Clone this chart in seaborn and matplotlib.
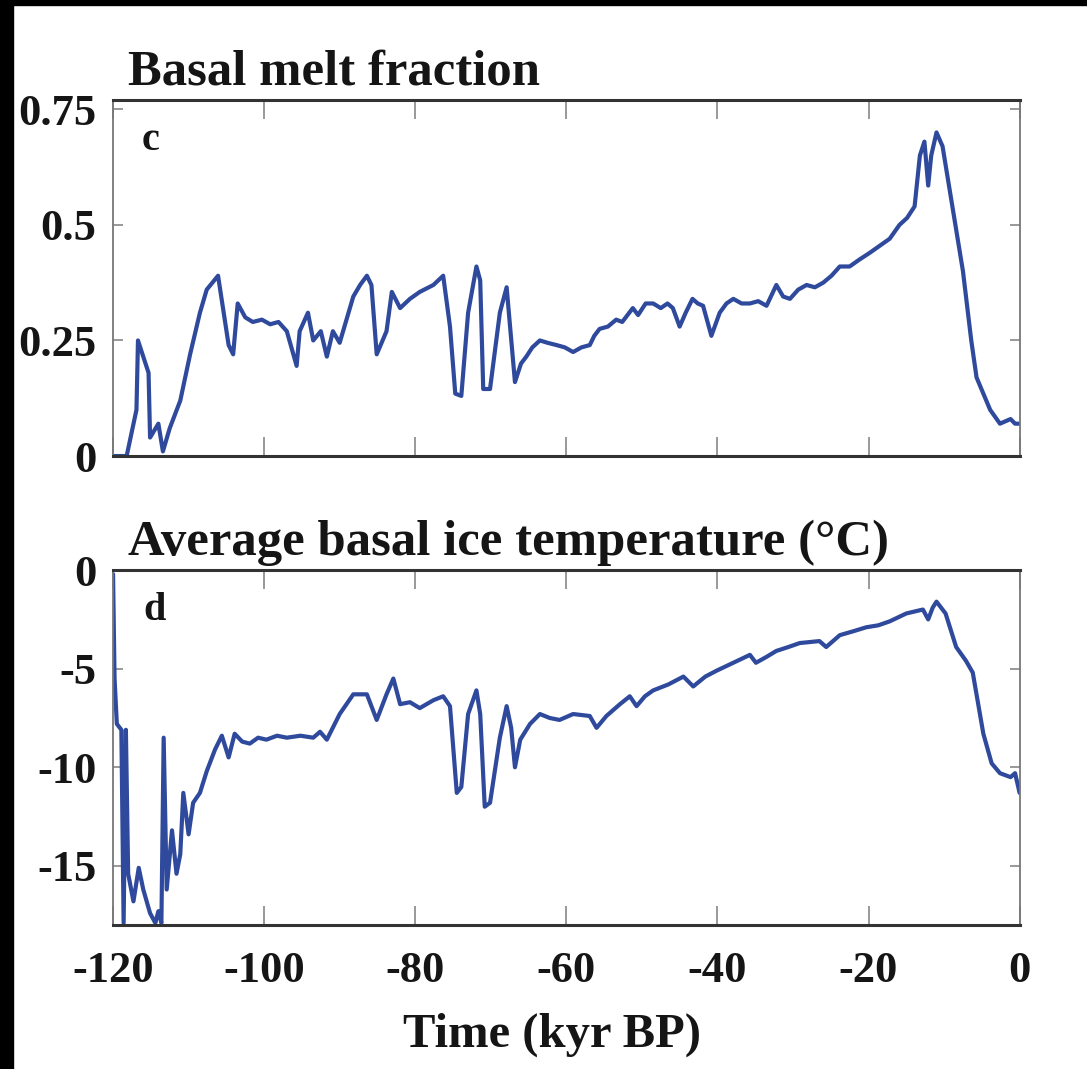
import pandas as pd
import seaborn as sns
import matplotlib.pyplot as plt
from matplotlib.patches import Rectangle

# Basal melt fraction (panel c)
melt_time = [-120.0, -119.5, -118.2, -116.9, -116.7, -115.3, -115.1, -114.0, -113.4,
             -112.5, -111.1, -109.8, -108.5, -107.6, -106.1, -104.7, -104.1, -103.5,
             -102.5, -101.5, -100.3, -99.2, -98.1, -97.0, -95.7, -95.3, -94.2, -93.5,
             -92.5, -91.7, -90.9, -90.0, -88.2, -87.3, -86.4, -85.8, -85.1, -83.8,
             -83.1, -82.0, -80.7, -79.4, -77.6, -76.3, -75.4, -74.7, -73.9, -73.0,
             -71.9, -71.4, -71.0, -70.1, -68.8, -67.9, -67.5, -66.8, -66.0, -65.3,
             -64.5, -63.5, -62.5, -61.3, -60.2, -59.1, -58.0, -56.9, -56.3, -55.6,
             -54.5, -53.4, -52.6, -51.2, -50.5, -49.5, -48.5, -47.5, -46.6, -45.9,
             -45.0, -44.2, -43.3, -42.6, -41.9, -40.8, -39.7, -38.8, -37.9, -36.8,
             -35.7, -34.6, -33.5, -32.2, -31.3, -30.4, -29.3, -28.2, -27.1, -26.0,
             -24.9, -23.8, -22.5, -21.2, -19.8, -18.5, -17.2, -15.9, -14.9, -13.9,
             -13.2, -12.6, -12.1, -11.7, -11.0, -10.2, -8.8, -7.5, -6.4, -5.7, -4.8,
             -3.9, -2.6, -1.9, -1.2, -0.6, 0.0]
melt_frac = [0.0, 0.0, 0.0, 0.10, 0.25, 0.18, 0.04, 0.07, 0.01,
             0.06, 0.12, 0.22, 0.31, 0.36, 0.39, 0.24, 0.22, 0.33,
             0.30, 0.29, 0.295, 0.285, 0.29, 0.27, 0.195, 0.27, 0.31, 0.25,
             0.27, 0.215, 0.27, 0.245, 0.345, 0.37, 0.39, 0.37, 0.22, 0.27,
             0.355, 0.32, 0.34, 0.355, 0.37, 0.39, 0.28, 0.135, 0.13, 0.31,
             0.41, 0.38, 0.145, 0.145, 0.31, 0.365, 0.29, 0.16, 0.20, 0.215,
             0.235, 0.25, 0.245, 0.24, 0.235, 0.225, 0.235, 0.24, 0.26, 0.275,
             0.28, 0.295, 0.29, 0.32, 0.305, 0.33, 0.33, 0.32, 0.33, 0.32,
             0.28, 0.31, 0.34, 0.33, 0.325, 0.26, 0.31, 0.33, 0.34, 0.33,
             0.33, 0.335, 0.325, 0.37, 0.345, 0.34, 0.36, 0.37, 0.365, 0.375,
             0.39, 0.41, 0.41, 0.425, 0.44, 0.455, 0.47, 0.50, 0.515, 0.54,
             0.65, 0.68, 0.585, 0.65, 0.70, 0.67, 0.53, 0.40, 0.25, 0.17, 0.135,
             0.10, 0.07, 0.075, 0.08, 0.07, 0.07]

# Average basal ice temperature (panel d)
temp_time = [-120.0, -119.8, -119.5, -118.9, -118.6, -118.3, -118.0, -117.3, -116.6,
             -116.0, -115.1, -114.4, -114.0, -113.6, -113.3, -112.9, -112.2, -111.6,
             -111.1, -110.7, -110.0, -109.4, -108.5, -107.6, -106.5, -105.6, -104.7,
             -103.9, -102.9, -101.9, -100.8, -99.7, -98.3, -97.0, -95.2, -93.5, -92.6,
             -91.7, -90.0, -88.2, -86.4, -85.1, -83.8, -82.9, -82.0, -80.7, -79.4,
             -77.6, -76.3, -75.4, -74.5, -73.9, -73.0, -71.9, -71.4, -70.8, -70.1,
             -68.8, -67.9, -67.3, -66.8, -66.1, -64.8, -63.5, -62.2, -60.9, -59.1,
             -56.9, -56.0, -54.7, -52.9, -51.6, -50.7, -49.6, -48.5, -46.5, -44.5,
             -43.2, -41.6, -40.1, -37.9, -35.7, -34.9, -33.5, -32.2, -30.6, -29.1,
             -26.5, -25.6, -23.8, -22.0, -20.3, -18.7, -17.2, -15.0, -12.8, -12.1,
             -11.5, -11.0, -9.8, -8.4, -7.1, -6.2, -4.8, -3.7, -2.6, -1.2, -0.6, 0.0]
temp_c = [-0.2, -5.5, -7.8, -8.1, -17.9, -8.1, -15.4, -16.8, -15.1,
          -16.2, -17.4, -17.9, -17.3, -17.9, -8.5, -16.2, -13.2, -15.4,
          -14.4, -11.3, -13.4, -11.8, -11.3, -10.2, -9.1, -8.4, -9.5,
          -8.3, -8.7, -8.8, -8.5, -8.6, -8.4, -8.5, -8.4, -8.5, -8.2,
          -8.6, -7.3, -6.3, -6.3, -7.6, -6.3, -5.5, -6.8, -6.7, -7.0,
          -6.6, -6.4, -6.9, -11.3, -11.0, -7.3, -6.1, -7.3, -12.0, -11.8,
          -8.5, -6.9, -8.0, -10.0, -8.6, -7.8, -7.3, -7.5, -7.6, -7.3,
          -7.4, -8.0, -7.4, -6.8, -6.4, -6.9, -6.4, -6.1, -5.8, -5.4,
          -5.9, -5.4, -5.1, -4.7, -4.3, -4.7, -4.4, -4.1, -3.9, -3.7,
          -3.6, -3.9, -3.3, -3.1, -2.9, -2.8, -2.6, -2.2, -2.0, -2.5,
          -1.9, -1.6, -2.2, -3.9, -4.6, -5.2, -8.3, -9.8, -10.3, -10.5, -10.3, -11.3]

x_ticks = [-120, -100, -80, -60, -40, -20, 0]
x_labels = ['-120', '-100', '-80', '-60', '-40', '-20', '0']
melt_ticks = [0, 0.25, 0.5, 0.75]
melt_labels = ['0', '0.25', '0.5', '0.75']
temp_ticks = [-15, -10, -5, 0]
temp_labels = ['-15', '-10', '-5', '0']

line_color = '#2f4a9c'

sns.set_style('white')
plt.rcParams['font.family'] = ['Liberation Serif', 'DejaVu Serif']
plt.rcParams['font.weight'] = 'bold'
plt.rcParams['text.color'] = '#151515'
plt.rcParams['xtick.labelcolor'] = '#151515'
plt.rcParams['ytick.labelcolor'] = '#151515'

fig = plt.figure(figsize=(10.87, 10.69), dpi=100)
ax1 = fig.add_axes([0.104, 0.5734, 0.834, 0.333])
ax2 = fig.add_axes([0.104, 0.1347, 0.834, 0.332])

melt = pd.DataFrame({'time': melt_time, 'value': melt_frac})
temp = pd.DataFrame({'time': temp_time, 'value': temp_c})
sns.lineplot(data=melt, x='time', y='value', ax=ax1, color=line_color,
             linewidth=3.0, estimator=None)
sns.lineplot(data=temp, x='time', y='value', ax=ax2, color=line_color,
             linewidth=3.0, estimator=None)

for ax in (ax1, ax2):
    ax.set_xlim(-120, 0)
    ax.set_xticks(x_ticks)
    ax.set_xticklabels(x_labels)
    ax.set_xlabel('')
    ax.set_ylabel('')
    ax.tick_params(axis='x', direction='in', length=14, width=1.2, color='#888888',
                   top=True, bottom=True, labelsize=32, pad=19)
    ax.tick_params(axis='y', direction='in', length=7, width=1.2, color='#888888',
                   left=True, right=True, labelsize=32, pad=12)
    for side, sp in ax.spines.items():
        sp.set_visible(True)
        sp.set_color('#333333' if side in ('top', 'bottom') else '#777777')
        sp.set_linewidth(2.2 if side in ('top', 'bottom') else 1.3)

ax1.set_ylim(0, 0.77)
ax1.set_yticks(melt_ticks)
ax1.set_yticklabels(melt_labels)
ax1.tick_params(axis='x', labelbottom=False)
ax2.set_ylim(-18, 0)
ax2.set_yticks(temp_ticks)
ax2.set_yticklabels(temp_labels)

for ax in (ax1, ax2):
    for lbl in ax.get_xticklabels() + ax.get_yticklabels():
        lbl.set_fontweight('bold')

ax1.text(0.041, 0.885, 'c', transform=ax1.transAxes, fontsize=29, fontweight='bold',
         ha='center', va='center')
ax2.text(0.046, 0.885, 'd', transform=ax2.transAxes, fontsize=29, fontweight='bold',
         ha='center', va='center')

fig.text(128 / 1087, 0.921, 'Basal melt fraction', fontsize=36.5, fontweight='bold',
         ha='left', va='baseline')
fig.text(128 / 1087, 0.481, 'Average basal ice temperature (°C)', fontsize=36.5,
         fontweight='bold', ha='left', va='baseline')
fig.text(0.508, 0.0206, 'Time (kyr BP)', fontsize=35, fontweight='bold',
         ha='center', va='baseline')

# black scan borders on the left and top
fig.patches.append(Rectangle((0, 0), 13 / 1087, 1, transform=fig.transFigure,
                             color='black', zorder=10))
fig.patches.append(Rectangle((0, 1 - 5 / 1069), 1, 5 / 1069, transform=fig.transFigure,
                             color='black', zorder=10))

fig.savefig('out.png', dpi=100, facecolor='white')
